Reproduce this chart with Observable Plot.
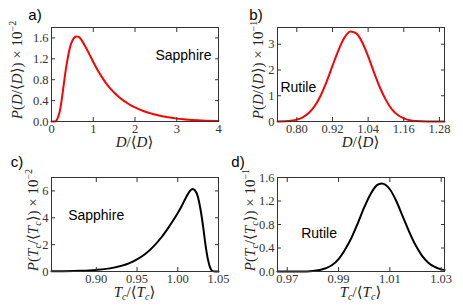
<!DOCTYPE html>
<html><head><meta charset="utf-8">
<script src="https://cdn.jsdelivr.net/npm/d3@7"></script>
<script src="https://cdn.jsdelivr.net/npm/@observablehq/plot@0.6"></script>
<style>
html,body{margin:0;padding:0;background:#fff;}
#fig{position:relative;width:463px;height:308px;overflow:hidden;}
#fig svg{position:absolute;overflow:visible;}
</style></head><body><div id="fig"></div>
<script>
// ---- data ----
// a) Sapphire, D/<D>  (P x 10^-2)
const aX = [0, 0.1, 0.15, 0.2, 0.25, 0.3, 0.35, 0.4, 0.45, 0.5, 0.55, 0.6, 0.65, 0.7, 0.75, 0.8, 0.9, 1.0, 1.1, 1.2, 1.3, 1.4, 1.5, 1.6, 1.7, 1.8, 1.9, 2.0, 2.2, 2.4, 2.6, 2.8, 3.0, 3.2, 3.5, 4.0];
const aY = [0, 0.005, 0.07, 0.2, 0.45, 0.75, 1.03, 1.26, 1.44, 1.55, 1.61, 1.63, 1.62, 1.58, 1.52, 1.45, 1.30, 1.14, 0.99, 0.86, 0.74, 0.64, 0.555, 0.48, 0.415, 0.36, 0.31, 0.27, 0.2, 0.15, 0.11, 0.08, 0.055, 0.04, 0.022, 0.008];
// b) Rutile, D/<D>  (P x 10^-1)
const bX = [0.735, 0.76, 0.78, 0.80, 0.82, 0.84, 0.86, 0.88, 0.90, 0.92, 0.94, 0.96, 0.98, 1.00, 1.02, 1.04, 1.06, 1.08, 1.10, 1.12, 1.14, 1.16, 1.18, 1.20, 1.24, 1.297];
const bY = [0.002, 0.01, 0.031, 0.074, 0.163, 0.327, 0.596, 1.0, 1.54, 2.16, 2.76, 3.25, 3.49, 3.42, 3.08, 2.53, 1.90, 1.31, 0.83, 0.47, 0.25, 0.12, 0.052, 0.021, 0.003, 0];
// c) Sapphire, Tc/<Tc>  (P x 10^-2)
const cX = [0.845, 0.86, 0.88, 0.90, 0.92, 0.94, 0.95, 0.96, 0.97, 0.98, 0.99, 1.00, 1.005, 1.01, 1.015, 1.018, 1.021, 1.025, 1.028, 1.031, 1.034, 1.037, 1.040, 1.043, 1.046, 1.05];
const cY = [0.01, 0.02, 0.05, 0.12, 0.27, 0.6, 0.9, 1.3, 1.85, 2.55, 3.4, 4.35, 4.9, 5.5, 6.0, 6.15, 6.05, 5.5, 4.6, 3.4, 2.0, 0.9, 0.25, 0.03, 0, 0];
// d) Rutile, Tc/<Tc>  (P x 10^-1)
const dX = [0.9662, 0.975, 0.980, 0.985, 0.9875, 0.990, 0.9925, 0.995, 0.9975, 1.000, 1.0025, 1.005, 1.0068, 1.010, 1.0125, 1.015, 1.0175, 1.020, 1.0225, 1.025, 1.0275, 1.030, 1.0313];
const dY = [0, 0.001, 0.010, 0.056, 0.11, 0.21, 0.37, 0.57, 0.82, 1.09, 1.32, 1.47, 1.5, 1.40, 1.20, 0.94, 0.68, 0.45, 0.27, 0.15, 0.077, 0.036, 0.025];

// tick values
const aXTicks = [0, 1, 2, 3, 4];
const aYTicks = [0, 0.4, 0.8, 1.2, 1.6];
const bXTicks = [0.80, 0.92, 1.04, 1.16, 1.28];
const bYTicks = [0, 1, 2, 3];
const cXTicks = [0.90, 0.95, 1.00, 1.05];
const cYTicks = [0, 2, 4, 6];
const dXTicks = [0.97, 0.99, 1.01, 1.03];
const dYTicks = [0, 0.4, 0.8, 1.2, 1.6];

const panelLabels = ["a)", "b)", "c)", "d)"];
const notes = [
  {text: "Sapphire", x: 3.16, y: 1.27},
  {text: "Rutile", x: 0.805, y: 1.33},
  {text: "Sapphire", x: 0.8998, y: 4.2},
  {text: "Rutile", x: 0.9824, y: 0.65}
];

// ---- drawing ----
const SERIF = "'Liberation Serif', 'DejaVu Serif', serif";
const SANS = "'Liberation Sans', Arial, sans-serif";
const fig = document.getElementById("fig");

function panel(cfg) {
  const data = cfg.xs.map((x, i) => ({x, y: cfg.ys[i]}));
  const tickCol = "#333";
  const ax = {fontSize: 12.5, fill: "#333", label: null};
  const svg = Plot.plot({
    width: cfg.w, height: 154,
    marginLeft: cfg.ml, marginRight: cfg.mr, marginTop: cfg.mt, marginBottom: cfg.mb,
    style: {background: "transparent"},
    x: {domain: cfg.xDomain},
    y: {domain: cfg.yDomain},
    marks: [
      Plot.line(data, {x: "x", y: "y", stroke: cfg.color, strokeWidth: 2, curve: "monotone-x"}),
      Plot.frame({stroke: "#333"}),
      Plot.axisX({...ax, anchor: "bottom", ticks: cfg.xTicks, tickSize: 0, tickPadding: 3, tickFormat: cfg.xFmt}),
      Plot.axisX({anchor: "bottom", ticks: cfg.xTicks, tickSize: -4, tickFormat: () => "", label: null, stroke: tickCol}),
      Plot.axisX({anchor: "top", ticks: cfg.xTicks, tickSize: -4, tickFormat: () => "", label: null, stroke: tickCol}),
      Plot.axisY({...ax, anchor: "left", ticks: cfg.yTicks, tickSize: 0, tickPadding: 3, tickFormat: cfg.yFmt}),
      Plot.axisY({anchor: "left", ticks: cfg.yTicks, tickSize: -4, tickFormat: () => "", label: null, stroke: tickCol}),
      Plot.axisY({anchor: "right", ticks: cfg.yTicks, tickSize: -4, tickFormat: () => "", label: null, stroke: tickCol}),
      Plot.text([cfg.note], {x: "x", y: "y", text: "text", fontSize: 14, fill: "#000", textAnchor: "middle"})
    ]
  });
  svg.style.left = cfg.left + "px";
  svg.style.top = cfg.top + "px";
  const s = d3.select(svg);
  // fonts: serif tick labels, sans annotation
  s.selectAll("text").style("font-family", SERIF);
  s.selectAll("text").filter(function () { return this.textContent === cfg.note.text; })
    .style("font-family", SANS);
  const fx0 = cfg.ml, fx1 = cfg.w - cfg.mr, fy0 = cfg.mt, fy1 = 154 - cfg.mb;
  // x title
  const xt = s.append("text").attr("x", (fx0 + fx1) / 2).attr("y", fy1 + cfg.xty)
    .attr("text-anchor", "middle").style("font-family", SERIF).attr("font-size", 15).attr("fill", "#222");
  addParts(xt, cfg.xTitle);
  // y title
  const yt = s.append("text").attr("transform", `translate(${cfg.ytx},${(fy0 + fy1) / 2 - 4}) rotate(-90)`)
    .attr("text-anchor", "middle").style("font-family", SERIF).attr("font-size", 15).attr("fill", "#222");
  addParts(yt, cfg.yTitle);
  // panel label
  s.append("text").attr("x", cfg.labX).attr("y", cfg.labY).style("font-family", SANS)
    .attr("font-size", 15).attr("fill", "#000").text(cfg.label);
  fig.appendChild(svg);
}

function addParts(t, parts) {
  for (const p of parts) {
    const ts = t.append("tspan").text(p.t);
    if (p.i) ts.attr("font-style", "italic");
    if (p.sup) ts.attr("font-size", 10).attr("dy", p.sup);
    if (p.dy) ts.attr("dy", p.dy);
  }
}

const D = [{t: "D", i: 1}, {t: "/⟨"}, {t: "D", i: 1}, {t: "⟩"}];
const T = [{t: "T", i: 1}, {t: "c", i: 1, sup: 3}, {t: "/⟨", dy: -3}, {t: "T", i: 1}, {t: "c", i: 1, sup: 3}, {t: "⟩", dy: -3}];
const PD = e => [{t: "P", i: 1}, {t: "("}, ...D, {t: ") × 10"}, {t: "−" + e, sup: -6}];
const PT = e => [{t: "P", i: 1}, {t: "("}, ...T, {t: ") × 10"}, {t: "−" + e, sup: -6}];

const f1 = d3.format(".1f"), f2 = d3.format(".2f"), fi = d3.format("d");

panel({left: 0, top: 0, w: 231, ml: 51, mr: 13, mt: 27, mb: 33, xs: aX, ys: aY, color: "#f00",
  xDomain: [0, 4], yDomain: [0, 1.8], xTicks: aXTicks, yTicks: aYTicks, xFmt: fi, yFmt: f1,
  note: notes[0], xTitle: D, yTitle: PD("2"), xty: 26, ytx: 22, label: panelLabels[0], labX: 35, labY: 20});
panel({left: 231, top: 0, w: 232, ml: 46, mr: 19, mt: 27, mb: 33, xs: bX, ys: bY, color: "#f00",
  xDomain: [0.735, 1.297], yDomain: [0, 3.65], xTicks: bXTicks, yTicks: bYTicks, xFmt: f2, yFmt: fi,
  note: notes[1], xTitle: D, yTitle: PD("1"), xty: 26, ytx: 32, label: panelLabels[1], labX: 25, labY: 20});
panel({left: 0, top: 154, w: 231, ml: 51, mr: 13, mt: 23, mb: 37, xs: cX, ys: cY, color: "#000",
  xDomain: [0.845, 1.05], yDomain: [0, 7], xTicks: cXTicks, yTicks: cYTicks, xFmt: f2, yFmt: fi,
  note: notes[2], xTitle: T, yTitle: PT("2"), xty: 26, ytx: 38, label: panelLabels[2], labX: 17, labY: 13});
panel({left: 231, top: 154, w: 232, ml: 46, mr: 19, mt: 23, mb: 37, xs: dX, ys: dY, color: "#000",
  xDomain: [0.9662, 1.0313], yDomain: [0, 1.6], xTicks: dXTicks, yTicks: dYTicks, xFmt: f2, yFmt: f1,
  note: notes[3], xTitle: T, yTitle: PT("1"), xty: 26, ytx: 24, label: panelLabels[3], labX: 7, labY: 13});
</script></body></html>
